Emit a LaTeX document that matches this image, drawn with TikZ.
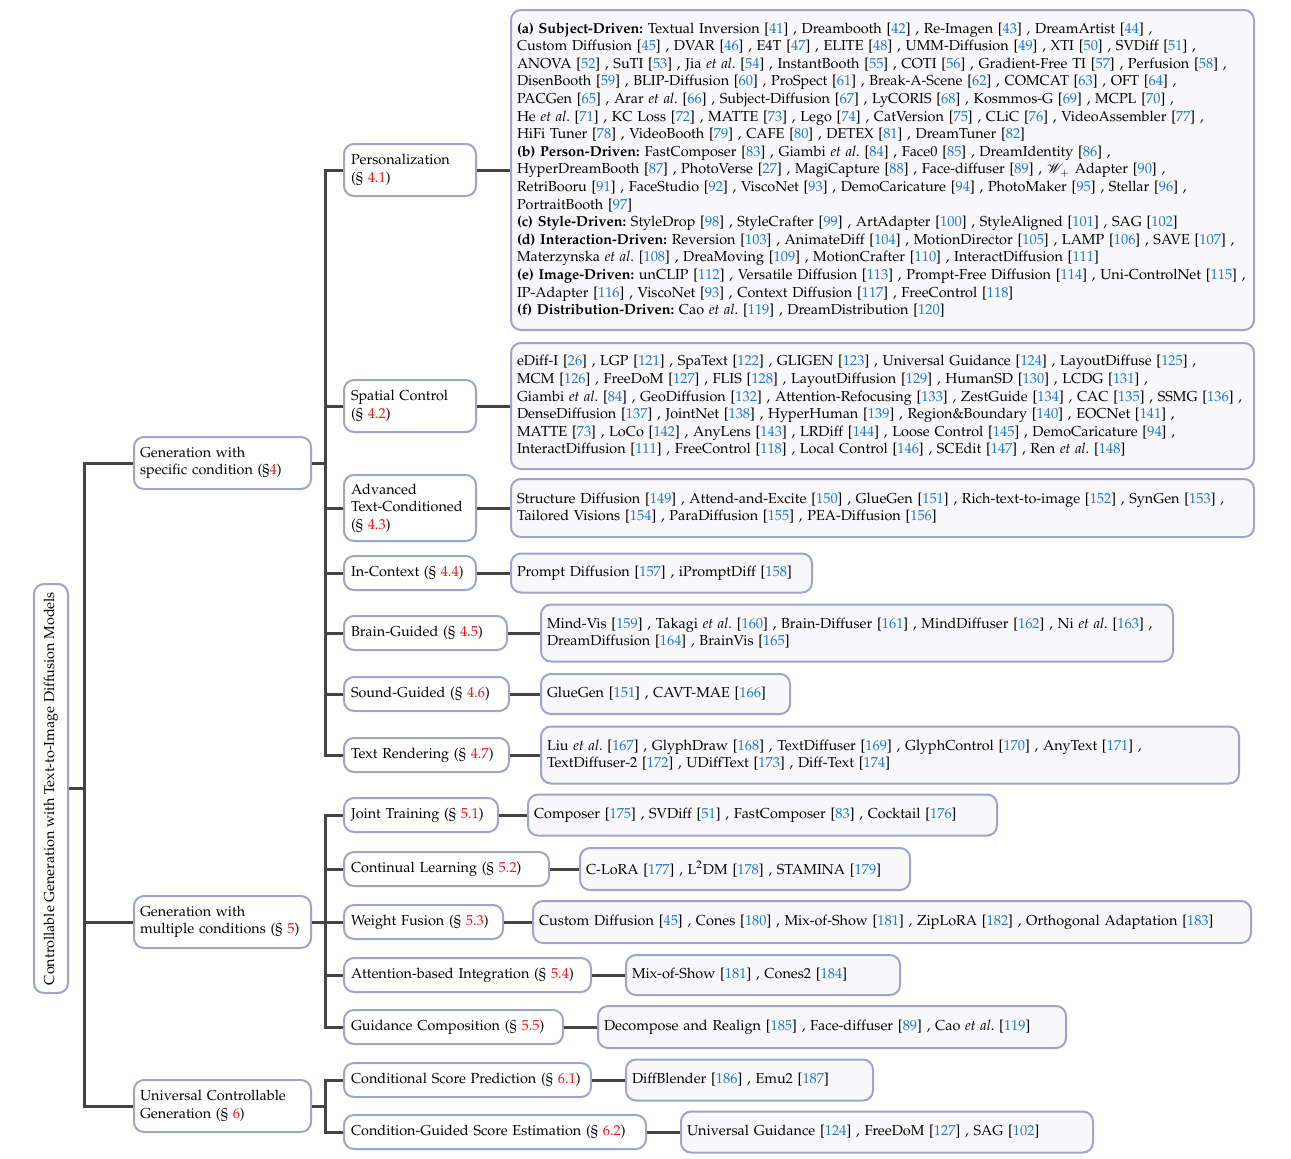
\documentclass[tikz,border=0pt]{standalone}
\usepackage[T1]{fontenc}
\usepackage{mathpazo}
\usepackage{mathrsfs}
\usepackage{xcolor}
\definecolor{citeblue}{RGB}{30,120,200}
\definecolor{secred}{RGB}{240,20,20}
\definecolor{bordercol}{RGB}{160,164,200}
\definecolor{leaffill}{RGB}{248,248,251}
\definecolor{conncol}{RGB}{68,68,68}
\newcommand\rf[1]{[\textcolor{citeblue}{#1}]}
\newcommand\myse[1]{\textcolor{secred}{#1}}
\newcommand\etal{\textit{et al}.}
\newcommand\fs{\fontsize{7.2}{8.8}\selectfont\frenchspacing}
\begin{document}
\begin{tikzpicture}[x={(0.5pt,0)},y={(0,-0.5pt)},
 base/.style={draw=bordercol, line width=1pt, rounded corners=5pt, align=left, anchor=west, font=\fs, inner ysep=0pt},
 leaf/.style={base, fill=leaffill, inner xsep=3pt},
 mid/.style={base, fill=white, inner xsep=3.5pt},
 conn/.style={draw=conncol, line width=1.5pt}]
\useasboundingbox[fill=white] (0,0) rectangle (1291,1158);

% root
\node[base, fill=white, rotate=90, anchor=center, minimum width=204.5pt, minimum height=17pt, align=center, inner xsep=2pt] (root) at (51,788.5) {Controllable Generation with Text-to-Image Diffusion Models};

% level 1
\node[mid, inner xsep=3pt, text width=82.5pt, minimum height=26pt] (g4) at (133,463) {Generation with\\specific condition (\S\myse{4})};
\node[mid, inner xsep=3pt, text width=82.5pt, minimum height=26pt] (g5) at (133,922) {Generation with\\multiple conditions (\S{} \myse{5})};
\node[mid, inner xsep=3pt, text width=82.5pt, minimum height=26pt] (g6) at (133,1106) {Universal Controllable\\Generation (\S{} \myse{6})};

% level 2 (section 4)
\node[mid, text width=59pt, minimum height=26pt] (p41) at (343,170) {Personalization\\(\S{} \myse{4.1})};
\node[mid, text width=59pt, minimum height=26pt] (p42) at (343,406) {Spatial Control\\(\S{} \myse{4.2})};
\node[mid, text width=59pt, minimum height=33pt] (p43) at (343,508) {Advanced\\Text-Conditioned\\(\S{} \myse{4.3})};
\node[mid, text width=59pt, minimum height=17pt] (p44) at (343,573) {In-Context (\S{} \myse{4.4})};
\node[mid, text width=74.5pt, minimum height=17pt] (p45) at (343,633) {Brain-Guided (\S{} \myse{4.5})};
\node[mid, text width=75.5pt, minimum height=17pt] (p46) at (343,694) {Sound-Guided (\S{} \myse{4.6})};
\node[mid, text width=75.5pt, minimum height=17pt] (p47) at (343,755) {Text Rendering (\S{} \myse{4.7})};

% level 2 (section 5)
\node[mid, text width=70pt, minimum height=17pt] (p51) at (343,815) {Joint Training (\S{} \myse{5.1})};
\node[mid, text width=95.5pt, minimum height=17pt] (p52) at (343,869) {Continual Learning (\S{} \myse{5.2})};
\node[mid, text width=72.5pt, minimum height=17pt] (p53) at (343,922) {Weight Fusion (\S{} \myse{5.3})};
\node[mid, text width=116.5pt, minimum height=17pt] (p54) at (343,975) {Attention-based Integration (\S{} \myse{5.4})};
\node[mid, text width=102.5pt, minimum height=17pt] (p55) at (343,1027) {Guidance Composition (\S{} \myse{5.5})};

% level 2 (section 6)
\node[mid, text width=116.5pt, minimum height=17pt] (p61) at (343,1080) {Conditional Score Prediction (\S{} \myse{6.1})};
\node[mid, text width=144pt, minimum height=17pt] (p62) at (343,1132) {Condition-Guided Score Estimation (\S{} \myse{6.2})};

% leaves
\node[leaf, text width=365.5pt, minimum height=160pt] (l41) at (510,170) {%
\textbf{(a) Subject-Driven:} Textual Inversion \rf{41} , Dreambooth \rf{42} , Re-Imagen \rf{43} , DreamArtist \rf{44} ,\\
Custom Diffusion \rf{45} , DVAR \rf{46} , E4T \rf{47} , ELITE \rf{48} , UMM-Diffusion \rf{49} , XTI \rf{50} , SVDiff \rf{51} ,\\
ANOVA \rf{52} , SuTI \rf{53} , Jia \etal{} \rf{54} , InstantBooth \rf{55} , COTI \rf{56} , Gradient-Free TI \rf{57} , Perfusion \rf{58} ,\\
DisenBooth \rf{59} , BLIP-Diffusion \rf{60} , ProSpect \rf{61} , Break-A-Scene \rf{62} , COMCAT \rf{63} , OFT \rf{64} ,\\
PACGen \rf{65} , Arar \etal{} \rf{66} , Subject-Diffusion \rf{67} , LyCORIS \rf{68} , Kosmmos-G \rf{69} , MCPL \rf{70} ,\\
He \etal{} \rf{71} , KC Loss \rf{72} , MATTE \rf{73} , Lego \rf{74} , CatVersion \rf{75} , CLiC \rf{76} , VideoAssembler \rf{77} ,\\
HiFi Tuner \rf{78} , VideoBooth \rf{79} , CAFE \rf{80} , DETEX \rf{81} , DreamTuner \rf{82}\\
\textbf{(b) Person-Driven:} FastComposer \rf{83} , Giambi \etal{} \rf{84} , Face0 \rf{85} , DreamIdentity \rf{86} ,\\
HyperDreamBooth \rf{87} , PhotoVerse \rf{27} , MagiCapture \rf{88} , Face-diffuser \rf{89} , $\mathscr{W}_{+}$ Adapter \rf{90} ,\\
RetriBooru \rf{91} , FaceStudio \rf{92} , ViscoNet \rf{93} , DemoCaricature \rf{94} , PhotoMaker \rf{95} , Stellar \rf{96} ,\\
PortraitBooth \rf{97}\\
\textbf{(c) Style-Driven:} StyleDrop \rf{98} , StyleCrafter \rf{99} , ArtAdapter \rf{100} , StyleAligned \rf{101} , SAG \rf{102}\\
\textbf{(d) Interaction-Driven:} Reversion \rf{103} , AnimateDiff \rf{104} , MotionDirector \rf{105} , LAMP \rf{106} , SAVE \rf{107} ,\\
Materzynska \etal{} \rf{108} , DreaMoving \rf{109} , MotionCrafter \rf{110} , InteractDiffusion \rf{111}\\
\textbf{(e) Image-Driven:} unCLIP \rf{112} , Versatile Diffusion \rf{113} , Prompt-Free Diffusion \rf{114} , Uni-ControlNet \rf{115} ,\\
IP-Adapter \rf{116} , ViscoNet \rf{93} , Context Diffusion \rf{117} , FreeControl \rf{118}\\
\textbf{(f) Distribution-Driven:} Cao \etal{} \rf{119} , DreamDistribution \rf{120}};

\node[leaf, text width=365.5pt, minimum height=63pt] (l42) at (510,406) {%
eDiff-I \rf{26} , LGP \rf{121} , SpaText \rf{122} , GLIGEN \rf{123} , Universal Guidance \rf{124} , LayoutDiffuse \rf{125} ,\\
MCM \rf{126} , FreeDoM \rf{127} , FLIS \rf{128} , LayoutDiffusion \rf{129} , HumanSD \rf{130} , LCDG \rf{131} ,\\
Giambi \etal{} \rf{84} , GeoDiffusion \rf{132} , Attention-Refocusing \rf{133} , ZestGuide \rf{134} , CAC \rf{135} , SSMG \rf{136} ,\\
DenseDiffusion \rf{137} , JointNet \rf{138} , HyperHuman \rf{139} , Region\&Boundary \rf{140} , EOCNet \rf{141} ,\\
MATTE \rf{73} , LoCo \rf{142} , AnyLens \rf{143} , LRDiff \rf{144} , Loose Control \rf{145} , DemoCaricature \rf{94} ,\\
InteractDiffusion \rf{111} , FreeControl \rf{118} , Local Control \rf{146} , SCEdit \rf{147} , Ren \etal{} \rf{148}};

\node[leaf, text width=365.5pt, minimum height=29pt] (l43) at (510,508) {%
Structure Diffusion \rf{149} , Attend-and-Excite \rf{150} , GlueGen \rf{151} , Rich-text-to-image \rf{152} , SynGen \rf{153} ,\\
Tailored Visions \rf{154} , ParaDiffusion \rf{155} , PEA-Diffusion \rf{156}};

\node[leaf, text width=144.5pt, minimum height=19.5pt] (l44) at (510,573) {Prompt Diffusion \rf{157} , iPromptDiff \rf{158}};

\node[leaf, text width=310pt, minimum height=28.5pt] (l45) at (540,633) {%
Mind-Vis \rf{159} , Takagi \etal{} \rf{160} , Brain-Diffuser \rf{161} , MindDiffuser \rf{162} , Ni \etal{} \rf{163} ,\\
DreamDiffusion \rf{164} , BrainVis \rf{165}};

\node[leaf, text width=118.5pt, minimum height=20pt] (l46) at (540,694) {GlueGen \rf{151} , CAVT-MAE \rf{166}};

\node[leaf, text width=343pt, minimum height=28.5pt] (l47) at (540,755) {%
Liu \etal{} \rf{167} , GlyphDraw \rf{168} , TextDiffuser \rf{169} , GlyphControl \rf{170} , AnyText \rf{171} ,\\
TextDiffuser-2 \rf{172} , UDiffText \rf{173} , Diff-Text \rf{174}};

\node[leaf, text width=228.5pt, minimum height=20.5pt] (l51) at (527,815) {Composer \rf{175} , SVDiff \rf{51} , FastComposer \rf{83} , Cocktail \rf{176}};
\node[leaf, text width=159pt, minimum height=21pt] (l52) at (579,869) {C-LoRA \rf{177} , L$^{2}$DM \rf{178} , STAMINA \rf{179}};
\node[leaf, text width=353pt, minimum height=21pt] (l53) at (532,922) {Custom Diffusion \rf{45} , Cones \rf{180} , Mix-of-Show \rf{181} , ZipLoRA \rf{182} , Orthogonal Adaptation \rf{183}};
\node[leaf, text width=131pt, minimum height=20pt] (l54) at (625,975) {Mix-of-Show \rf{181} , Cones2 \rf{184}};
\node[leaf, text width=228pt, minimum height=21pt] (l55) at (597,1027) {Decompose and Realign \rf{185} , Face-diffuser \rf{89} , Cao \etal{} \rf{119}};

\node[leaf, text width=117.5pt, minimum height=20.5pt] (l61) at (625,1080) {DiffBlender \rf{186} , Emu2 \rf{187}};
\node[leaf, text width=200pt, minimum height=20.5pt] (l62) at (680,1132) {Universal Guidance \rf{124} , FreeDoM \rf{127} , SAG \rf{102}};

% connectors
\coordinate (j0) at (84,788.5);
\coordinate (j4) at (325,463);
\coordinate (j5) at (325,922);
\coordinate (j6) at (325,1106);
\draw[conn] (root.south) -- (j0);
\foreach \c in {g4,g5,g6} \draw[conn] (j0) |- (\c.west);
\draw[conn] (g4.east) -- (j4);
\foreach \c in {p41,p42,p43,p44,p45,p46,p47} \draw[conn] (j4) |- (\c.west);
\draw[conn] (g5.east) -- (j5);
\foreach \c in {p51,p52,p53,p54,p55} \draw[conn] (j5) |- (\c.west);
\draw[conn] (g6.east) -- (j6);
\foreach \c in {p61,p62} \draw[conn] (j6) |- (\c.west);
\foreach \a/\b in {p41/l41,p42/l42,p43/l43,p44/l44,p45/l45,p46/l46,p47/l47,p51/l51,p52/l52,p53/l53,p54/l54,p55/l55,p61/l61,p62/l62}
  \draw[conn] (\a.east) -- (\b.west);
\end{tikzpicture}
\end{document}
